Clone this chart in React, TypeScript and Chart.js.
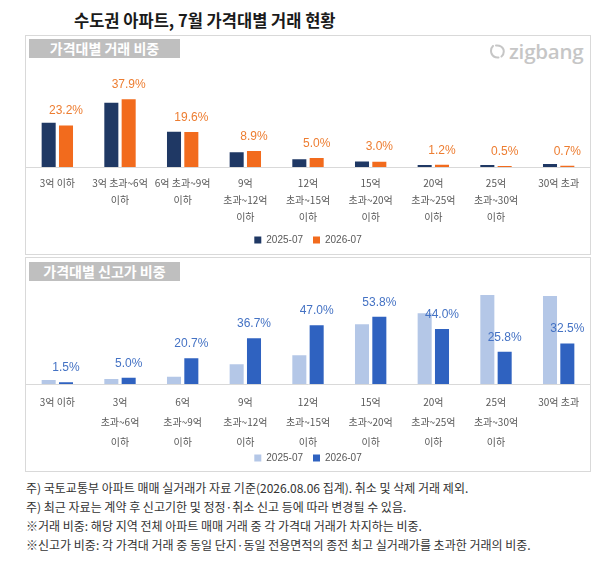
import React, { useEffect, useRef } from "react";
import { Chart, registerables } from "chart.js";

Chart.register(...registerables);

// ---- data ----
const shareCategories: string[][] = [
  ["3억 이하"],
  ["3억 초과~6억", "이하"],
  ["6억 초과~9억", "이하"],
  ["9억", "초과~12억", "이하"],
  ["12억", "초과~15억", "이하"],
  ["15억", "초과~20억", "이하"],
  ["20억", "초과~25억", "이하"],
  ["25억", "초과~30억", "이하"],
  ["30억 초과"],
];
const share2025: number[] = [24.7, 36.0, 19.7, 8.2, 4.3, 3.1, 1.1, 1.1, 1.7];
const share2026: number[] = [23.2, 37.9, 19.6, 8.9, 5.0, 3.0, 1.2, 0.5, 0.7];

const highCategories: string[][] = [
  ["3억 이하"],
  ["3억", "초과~6억", "이하"],
  ["6억", "초과~9억", "이하"],
  ["9억", "초과~12억", "이하"],
  ["12억", "초과~15억", "이하"],
  ["15억", "초과~20억", "이하"],
  ["20억", "초과~25억", "이하"],
  ["25억", "초과~30억", "이하"],
  ["30억 초과"],
];
const high2025: number[] = [3.2, 4.0, 5.8, 15.8, 23.0, 47.8, 56.6, 71.2, 70.4];
const high2026: number[] = [1.5, 5.0, 20.7, 36.7, 47.0, 53.8, 44.0, 25.8, 32.5];

const seriesLabels: string[] = ["2025-07", "2026-07"];

const titleText = "수도권 아파트, 7월 가격대별 거래 현황";
const panel1Title = "가격대별 거래 비중";
const panel2Title = "가격대별 신고가 비중";
const footnotes: string[] = [
  "주) 국토교통부 아파트 매매 실거래가 자료 기준(2026.08.06 집계). 취소 및 삭제 거래 제외.",
  "주) 최근 자료는 계약 후 신고기한 및 정정·취소 신고 등에 따라 변경될 수 있음.",
  "※거래 비중: 해당 지역 전체 아파트 매매 거래 중 각 가격대 거래가 차지하는 비중.",
  "※신고가 비중: 각 가격대 거래 중 동일 단지·동일 전용면적의 종전 최고 실거래가를 초과한 거래의 비중.",
];

const KR = '"Noto Sans CJK KR", "Noto Sans", sans-serif';
const NUM = '"Liberation Sans", Arial, "Noto Sans CJK KR", sans-serif';

const valueLabelPlugin = {
  id: "valueLabels",
  afterLayout(chart: any) {
    // let multi-line category labels run past the axis box (no clipping)
    const x = chart.scales.x;
    if (x) x.bottom = chart.height;
  },
  afterDatasetsDraw(chart: any, _args: any, opts: any) {
    const { ctx } = chart;
    const idx = opts.datasetIndex ?? 1;
    const meta = chart.getDatasetMeta(idx);
    const data = chart.data.datasets[idx].data;
    ctx.save();
    ctx.font = opts.font;
    ctx.fillStyle = opts.color;
    ctx.textAlign = "center";
    ctx.textBaseline = "middle";
    meta.data.forEach((bar: any, i: number) => {
      ctx.fillText(Number(data[i]).toFixed(1) + "%", bar.x, bar.y - opts.offset);
    });
    ctx.restore();
  },
};

type PanelProps = {
  categories: string[][];
  a: number[];
  b: number[];
  colors: [string, string];
  labelColor: string;
  yMax: number;
  padTop: number;
  axisHeight: number;
  tickPadding: number;
  lineHeight: number;
  width: number;
  height: number;
  left: number;
  top: number;
};

function BarChart(p: PanelProps) {
  const ref = useRef<HTMLCanvasElement>(null);
  useEffect(() => {
    const chart = new Chart(ref.current as HTMLCanvasElement, {
      type: "bar",
      data: {
        labels: p.categories as any,
        datasets: [
          {
            label: seriesLabels[0],
            data: p.a,
            backgroundColor: p.colors[0],
            categoryPercentage: 0.553,
            barPercentage: 0.81,
          },
          {
            label: seriesLabels[1],
            data: p.b,
            backgroundColor: p.colors[1],
            categoryPercentage: 0.553,
            barPercentage: 0.81,
          },
        ],
      },
      options: {
        animation: false,
        responsive: false,
        layout: { padding: { top: p.padTop, left: 0, right: 0, bottom: 0 } },
        scales: {
          x: {
            grid: { display: false, drawTicks: false },
            border: { display: true, color: "#d9d9d9", width: 1 },
            ticks: {
              color: "#595959",
              font: { family: KR, size: 10, lineHeight: p.lineHeight },
              padding: p.tickPadding,
              maxRotation: 0,
              autoSkip: false,
            },
            afterFit: (s: any) => {
              s.height = p.axisHeight;
            },
          },
          y: { display: false, min: 0, max: p.yMax },
        },
        plugins: {
          legend: {
            position: "bottom",
            labels: {
              boxWidth: 7,
              boxHeight: 7,
              padding: 10,
              color: "#595959",
              font: { family: NUM, size: 10 },
            },
          },
          tooltip: { enabled: false },
          valueLabels: {
            datasetIndex: 1,
            font: `12px ${NUM}`,
            color: p.labelColor,
            offset: 14.5,
          },
        } as any,
      },
      plugins: [valueLabelPlugin],
    });
    return () => chart.destroy();
  }, []);
  return (
    <canvas
      ref={ref}
      width={p.width}
      height={p.height}
      style={{ position: "absolute", left: p.left, top: p.top, width: p.width, height: p.height }}
    />
  );
}

function Header({ text, top }: { text: string; top: number }) {
  return (
    <div
      style={{
        position: "absolute",
        left: 29,
        top,
        width: 151,
        height: 19,
        background: "#bfbfbf",
        color: "#ffffff",
        fontFamily: KR,
        fontWeight: 700,
        fontSize: 14,
        lineHeight: "19px",
        textAlign: "center",
        whiteSpace: "nowrap",
      }}
    >
      {text}
    </div>
  );
}

export default function App() {
  return (
    <div
      style={{
        position: "absolute",
        left: 0,
        top: 0,
        width: 616,
        height: 567,
        background: "#ffffff",
        overflow: "hidden",
        fontFamily: KR,
      }}
    >
      <div
        style={{
          position: "absolute",
          left: 74,
          top: 10,
          fontSize: 16.5,
          fontWeight: 700,
          lineHeight: "21px",
          color: "#1a1a1a",
          whiteSpace: "nowrap",
        }}
      >
        {titleText}
      </div>

      {/* panel 1 */}
      <div
        style={{
          position: "absolute",
          left: 25,
          top: 35,
          width: 564,
          height: 218,
          border: "1px solid #d9d9d9",
        }}
      />
      <Header text={panel1Title} top={39} />
      <div style={{ position: "absolute", left: 489, top: 40, display: "flex", alignItems: "center" }}>
        <svg width="17" height="17" viewBox="0 0 17 17">
          <path
            d="M4 3 Q1 6 2.5 10.5 Q4.5 15 9.5 14.5 M7 2.5 Q12.5 2 14.5 6.5 Q15.5 11 12.5 13.5"
            fill="none"
            stroke="#c6c6c6"
            strokeWidth="2"
            strokeLinecap="round"
          />
        </svg>
        <span
          style={{
            fontFamily: '"Open Sans", Roboto, sans-serif',
            fontSize: 20.5,
            fontWeight: 600,
            color: "#c6c6c6",
            marginLeft: 3,
            lineHeight: "22px",
            letterSpacing: -0.2,
          }}
        >
          zigbang
        </span>
      </div>
      <BarChart
        categories={shareCategories}
        a={share2025}
        b={share2026}
        colors={["#1f3864", "#f26b1d"]}
        labelColor="#ed7d31"
        yMax={40}
        padTop={35.5}
        axisHeight={58}
        tickPadding={7.5}
        lineHeight={1.7}
        width={564}
        height={195}
        left={26}
        top={60}
      />

      {/* panel 2 */}
      <div
        style={{
          position: "absolute",
          left: 25,
          top: 257,
          width: 564,
          height: 213,
          border: "1px solid #d9d9d9",
        }}
      />
      <Header text={panel2Title} top={262} />
      <BarChart
        categories={highCategories}
        a={high2025}
        b={high2026}
        colors={["#b4c7e7", "#2f62c0"]}
        labelColor="#4472c4"
        yMax={75}
        padTop={5.25}
        axisHeight={59}
        tickPadding={8.7}
        lineHeight={2.0}
        width={564}
        height={188}
        left={26}
        top={285}
      />

      {/* footnotes */}
      <div
        style={{
          position: "absolute",
          left: 26,
          top: 477.6,
          fontSize: 12,
          lineHeight: "19.3px",
          color: "#333333",
          whiteSpace: "nowrap",
        }}
      >
        {footnotes.map((f, i) => (
          <div key={i}>{f}</div>
        ))}
      </div>
    </div>
  );
}
